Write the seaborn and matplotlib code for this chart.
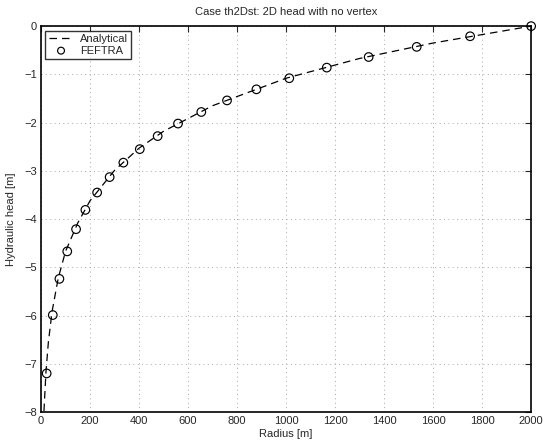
import matplotlib
matplotlib.use("Agg")
import matplotlib.pyplot as plt
import seaborn as sns
import pandas as pd

# Analytical drawdown curve (radius [m], head [m])
analytical_r = [12, 20, 30, 45, 70, 100, 150, 200, 300, 400, 500, 700, 1000, 1300, 1600, 2000]
analytical_h = [-7.98, -7.18, -6.55, -5.92, -5.23, -4.67, -4.08, -3.62, -2.99, -2.53, -2.18,
                -1.65, -1.08, -0.67, -0.35, 0.0]

# FEFTRA nodal results
feftra_r = [23, 48, 75, 107, 143, 181, 229, 280, 336, 403, 476, 559, 654, 759, 879,
            1013, 1166, 1337, 1533, 1751, 2000]
feftra_h = [-7.2, -5.99, -5.24, -4.67, -4.21, -3.81, -3.45, -3.13, -2.83, -2.55, -2.28,
            -2.02, -1.78, -1.54, -1.31, -1.08, -0.86, -0.64, -0.43, -0.21, 0.0]

x_ticks = [0, 200, 400, 600, 800, 1000, 1200, 1400, 1600, 1800, 2000]
y_ticks = [-8, -7, -6, -5, -4, -3, -2, -1, 0]

sns.set_style("white")
plt.rcParams["font.family"] = ["Liberation Sans", "DejaVu Sans"]
plt.rcParams["font.size"] = 8

ana = pd.DataFrame({"r": analytical_r, "h": analytical_h})
fef = pd.DataFrame({"r": feftra_r, "h": feftra_h})

fig = plt.figure(figsize=(5.47, 4.43), dpi=100)
ax = fig.add_axes([0.075, 0.070, 0.896, 0.871])

sns.lineplot(data=ana, x="r", y="h", ax=ax, color="black", lw=0.9,
             linestyle=(0, (6, 4)), label="Analytical", sort=False)
sns.scatterplot(data=fef, x="r", y="h", ax=ax, marker="o", s=38,
                facecolor="none", edgecolor="black", linewidth=0.85,
                label="FEFTRA", zorder=3, clip_on=False)

ax.set_xlim(0, 2000)
ax.set_ylim(-8, 0)
ax.set_xticks(x_ticks)
ax.set_yticks(y_ticks)
ax.set_xticklabels([str(t) for t in x_ticks])
ax.set_yticklabels([str(t).replace("-", "\u2212") for t in y_ticks])
ax.grid(True, color="#a8a8a8", linestyle=(0, (1, 3.5)), linewidth=0.7)
ax.tick_params(direction="in", top=True, right=True, length=4, width=0.8,
               labelsize=8, pad=3)
for sp in ax.spines.values():
    sp.set_visible(True)
    sp.set_color("black")
    sp.set_linewidth(1.2)

ax.set_xlabel("Radius [m]", fontsize=8, labelpad=2)
ax.set_ylabel("Hydraulic head [m]", fontsize=8, labelpad=6)
ax.set_title("Case th2Dst: 2D head with no vertex", fontsize=8, pad=8)

leg = ax.legend(loc="upper left", frameon=True, fancybox=False, fontsize=8,
                borderpad=0.3, handlelength=2.2, handletextpad=0.6,
                labelspacing=0.15, borderaxespad=0.4, markerscale=0.8)
leg.get_frame().set_edgecolor("black")
leg.get_frame().set_linewidth(1.0)

fig.savefig("out.png", dpi=100)
